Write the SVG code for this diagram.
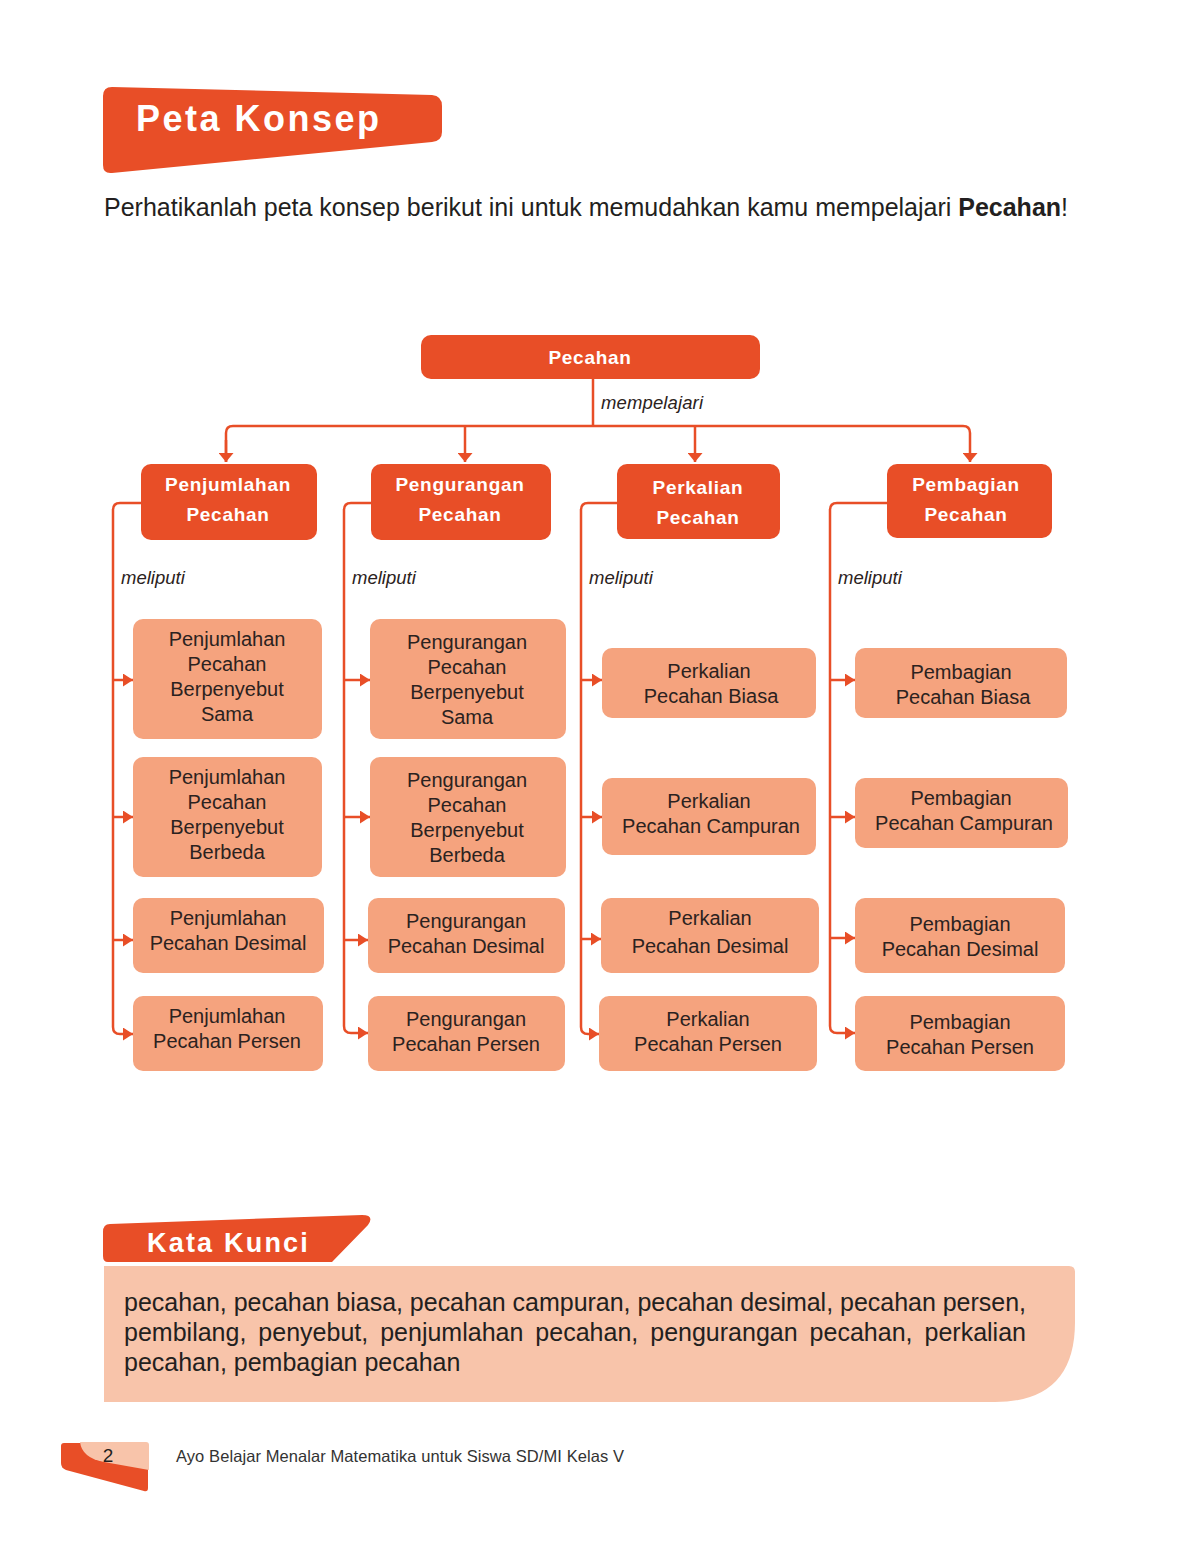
<svg xmlns="http://www.w3.org/2000/svg" width="1181" height="1565" viewBox="0 0 1181 1565">
<style>
.red{fill:#E84E27}
.sal{fill:#F5A37E}
.peach{fill:#F8C4AA}
.h{font-family:"Liberation Sans",Arial,sans-serif;font-weight:bold;fill:#fff;text-anchor:middle}
.l1{font-size:19px;letter-spacing:0.7px}
.c{font-family:"Liberation Sans",Arial,sans-serif;font-size:20px;fill:#2b2220;text-anchor:middle}
.it{font-family:"Liberation Sans",Arial,sans-serif;font-style:italic;font-size:18.5px;fill:#2b2220}
.ln{fill:none;stroke:#E84E27;stroke-width:2.5}
</style>
<defs>
<marker id="ar" viewBox="0 0 10 10" refX="10" refY="5" markerWidth="10" markerHeight="13" orient="auto" markerUnits="userSpaceOnUse" preserveAspectRatio="none"><path d="M0,0 L10,5 L0,10 z" fill="#E84E27"/></marker>
<marker id="ad" viewBox="0 0 10 10" refX="10" refY="5" markerWidth="9" markerHeight="15" orient="auto" markerUnits="userSpaceOnUse" preserveAspectRatio="none"><path d="M0,0 L10,5 L0,10 z" fill="#E84E27"/></marker>
</defs>
<rect width="1181" height="1565" fill="#fff"/>

<g id="title">
<path class="red" d="M112,87 L432,95 Q442,96 442,106 L442,132 Q442,141 432,142 L112,173 Q103,174 103,165 L103,96 Q103,87 112,87 Z"/>
<text x="136" y="131" font-family="'Liberation Sans',Arial,sans-serif" font-weight="bold" font-size="36" letter-spacing="2.5" fill="#fff">Peta Konsep</text>
</g>
<text id="intro" x="104" y="216" font-family="'Liberation Sans',Arial,sans-serif" font-size="25" fill="#231f20" textLength="964">Perhatikanlah peta konsep berikut ini untuk memudahkan kamu mempelajari <tspan font-weight="bold">Pecahan</tspan>!</text>

<g id="connectors">
<path class="ln" d="M593,379 V426"/>
<path class="ln" d="M226,462 V433 Q226,426 233,426 H963 Q970,426 970,433 V462" marker-end="url(#ad)"/>
<path class="ln" d="M226,440 V462" marker-end="url(#ad)"/>
<path class="ln" d="M465,426 V462" marker-end="url(#ad)"/>
<path class="ln" d="M695,426 V462" marker-end="url(#ad)"/>
<text class="it" x="601" y="409" textLength="102">mempelajari</text>

<path class="ln" d="M141,503 H120 Q113,503 113,510 V1027 Q113,1034 120,1034 H133" marker-end="url(#ar)"/>
<path class="ln" d="M113,680 H133" marker-end="url(#ar)"/>
<path class="ln" d="M113,817 H133" marker-end="url(#ar)"/>
<path class="ln" d="M113,940 H133" marker-end="url(#ar)"/>
<text class="it" x="121" y="584">meliputi</text>

<path class="ln" d="M371,503 H351 Q344,503 344,510 V1026 Q344,1033 351,1033 H368" marker-end="url(#ar)"/>
<path class="ln" d="M344,680 H370" marker-end="url(#ar)"/>
<path class="ln" d="M344,817 H370" marker-end="url(#ar)"/>
<path class="ln" d="M344,940 H368" marker-end="url(#ar)"/>
<text class="it" x="352" y="584">meliputi</text>

<path class="ln" d="M617,503 H588 Q581,503 581,510 V1027 Q581,1034 588,1034 H599" marker-end="url(#ar)"/>
<path class="ln" d="M581,680 H602" marker-end="url(#ar)"/>
<path class="ln" d="M581,817 H602" marker-end="url(#ar)"/>
<path class="ln" d="M581,939 H601" marker-end="url(#ar)"/>
<text class="it" x="589" y="584">meliputi</text>

<path class="ln" d="M887,503 H837 Q830,503 830,510 V1026 Q830,1033 837,1033 H855" marker-end="url(#ar)"/>
<path class="ln" d="M830,680 H855" marker-end="url(#ar)"/>
<path class="ln" d="M830,817 H855" marker-end="url(#ar)"/>
<path class="ln" d="M830,938 H855" marker-end="url(#ar)"/>
<text class="it" x="838" y="584">meliputi</text>
</g>

<g id="root"><rect class="red" x="421" y="335" width="339" height="44" rx="10"/><text class="h l1" x="590" y="364">Pecahan</text></g>

<g id="penjumlahan"><rect class="red" x="141" y="464" width="176" height="76" rx="10"/><text class="h l1" x="228" y="491">Penjumlahan</text><text class="h l1" x="228" y="521">Pecahan</text></g>
<g id="pengurangan"><rect class="red" x="371" y="464" width="180" height="76" rx="10"/><text class="h l1" x="460" y="491">Pengurangan</text><text class="h l1" x="460" y="521">Pecahan</text></g>
<g id="perkalian"><rect class="red" x="617" y="464" width="163" height="75" rx="10"/><text class="h l1" x="698" y="494">Perkalian</text><text class="h l1" x="698" y="524">Pecahan</text></g>
<g id="pembagian"><rect class="red" x="887" y="464" width="165" height="74" rx="10"/><text class="h l1" x="966" y="491">Pembagian</text><text class="h l1" x="966" y="521">Pecahan</text></g>

<g id="a1"><rect class="sal" x="133" y="619" width="189" height="120" rx="10"/><text class="c" x="227" y="646">Penjumlahan</text><text class="c" x="227" y="671">Pecahan</text><text class="c" x="227" y="696">Berpenyebut</text><text class="c" x="227" y="721">Sama</text></g>
<g id="a2"><rect class="sal" x="133" y="757" width="189" height="120" rx="10"/><text class="c" x="227" y="784">Penjumlahan</text><text class="c" x="227" y="809">Pecahan</text><text class="c" x="227" y="834">Berpenyebut</text><text class="c" x="227" y="859">Berbeda</text></g>
<g id="a3"><rect class="sal" x="133" y="898" width="191" height="75" rx="10"/><text class="c" x="228" y="925">Penjumlahan</text><text class="c" x="228" y="950">Pecahan Desimal</text></g>
<g id="a4"><rect class="sal" x="133" y="996" width="190" height="75" rx="10"/><text class="c" x="227" y="1023">Penjumlahan</text><text class="c" x="227" y="1048">Pecahan Persen</text></g>

<g id="b1"><rect class="sal" x="370" y="619" width="196" height="120" rx="10"/><text class="c" x="467" y="649">Pengurangan</text><text class="c" x="467" y="674">Pecahan</text><text class="c" x="467" y="699">Berpenyebut</text><text class="c" x="467" y="724">Sama</text></g>
<g id="b2"><rect class="sal" x="370" y="757" width="196" height="120" rx="10"/><text class="c" x="467" y="787">Pengurangan</text><text class="c" x="467" y="812">Pecahan</text><text class="c" x="467" y="837">Berpenyebut</text><text class="c" x="467" y="862">Berbeda</text></g>
<g id="b3"><rect class="sal" x="368" y="898" width="197" height="75" rx="10"/><text class="c" x="466" y="928">Pengurangan</text><text class="c" x="466" y="953">Pecahan Desimal</text></g>
<g id="b4"><rect class="sal" x="368" y="996" width="197" height="75" rx="10"/><text class="c" x="466" y="1026">Pengurangan</text><text class="c" x="466" y="1051">Pecahan Persen</text></g>

<g id="c1"><rect class="sal" x="602" y="648" width="214" height="70" rx="10"/><text class="c" x="709" y="678">Perkalian</text><text class="c" x="711" y="703">Pecahan Biasa</text></g>
<g id="c2"><rect class="sal" x="602" y="778" width="214" height="77" rx="10"/><text class="c" x="709" y="808">Perkalian</text><text class="c" x="711" y="833">Pecahan Campuran</text></g>
<g id="c3"><rect class="sal" x="601" y="898" width="218" height="75" rx="10"/><text class="c" x="710" y="925">Perkalian</text><text class="c" x="710" y="953">Pecahan Desimal</text></g>
<g id="c4"><rect class="sal" x="599" y="996" width="218" height="75" rx="10"/><text class="c" x="708" y="1026">Perkalian</text><text class="c" x="708" y="1051">Pecahan Persen</text></g>

<g id="d1"><rect class="sal" x="855" y="648" width="212" height="70" rx="10"/><text class="c" x="961" y="679">Pembagian</text><text class="c" x="963" y="704">Pecahan Biasa</text></g>
<g id="d2"><rect class="sal" x="855" y="778" width="213" height="70" rx="10"/><text class="c" x="961" y="805">Pembagian</text><text class="c" x="964" y="830">Pecahan Campuran</text></g>
<g id="d3"><rect class="sal" x="855" y="898" width="210" height="75" rx="10"/><text class="c" x="960" y="931">Pembagian</text><text class="c" x="960" y="956">Pecahan Desimal</text></g>
<g id="d4"><rect class="sal" x="855" y="996" width="210" height="75" rx="10"/><text class="c" x="960" y="1029">Pembagian</text><text class="c" x="960" y="1054">Pecahan Persen</text></g>

<g id="kata-kunci">
<path class="peach" d="M104,1266 H1069 Q1075,1266 1075,1272 V1322 Q1075,1402 995,1402 H104 Z"/>
<path class="red" d="M110,1224 L362,1215 Q375,1215 368,1225 L332,1262 H108 Q103,1262 103,1256 L103,1232 Q103,1224 110,1224 Z"/>
<text x="147" y="1252" font-family="'Liberation Sans',Arial,sans-serif" font-weight="bold" font-size="27" letter-spacing="2.2" fill="#fff">Kata Kunci</text>
<g font-family="'Liberation Sans',Arial,sans-serif" font-size="25" fill="#231f20">
<text x="124" y="1311" textLength="902">pecahan, pecahan biasa, pecahan campuran, pecahan desimal, pecahan persen,</text>
<text x="124" y="1341" word-spacing="5" textLength="902">pembilang, penyebut, penjumlahan pecahan, pengurangan pecahan, perkalian</text>
<text x="124" y="1371">pecahan, pembagian pecahan</text>
</g>
</g>

<g id="footer">
<path class="red" d="M64,1443 H148 V1488 Q148,1492 144,1491 L66,1470 Q61,1468 61,1463 V1446 Q61,1443 64,1443 Z"/>
<path class="peach" d="M80,1442 H146 Q149,1442 149,1445 V1470 L104,1462 Q82,1458 80,1442 Z"/>
<text x="108" y="1462" font-family="'Liberation Sans',Arial,sans-serif" font-size="19" fill="#231f20" text-anchor="middle">2</text>
<text x="176" y="1462" font-family="'Liberation Sans',Arial,sans-serif" font-size="16.5" fill="#333" textLength="448">Ayo Belajar Menalar Matematika untuk Siswa SD/MI Kelas V</text>
</g>
</svg>
